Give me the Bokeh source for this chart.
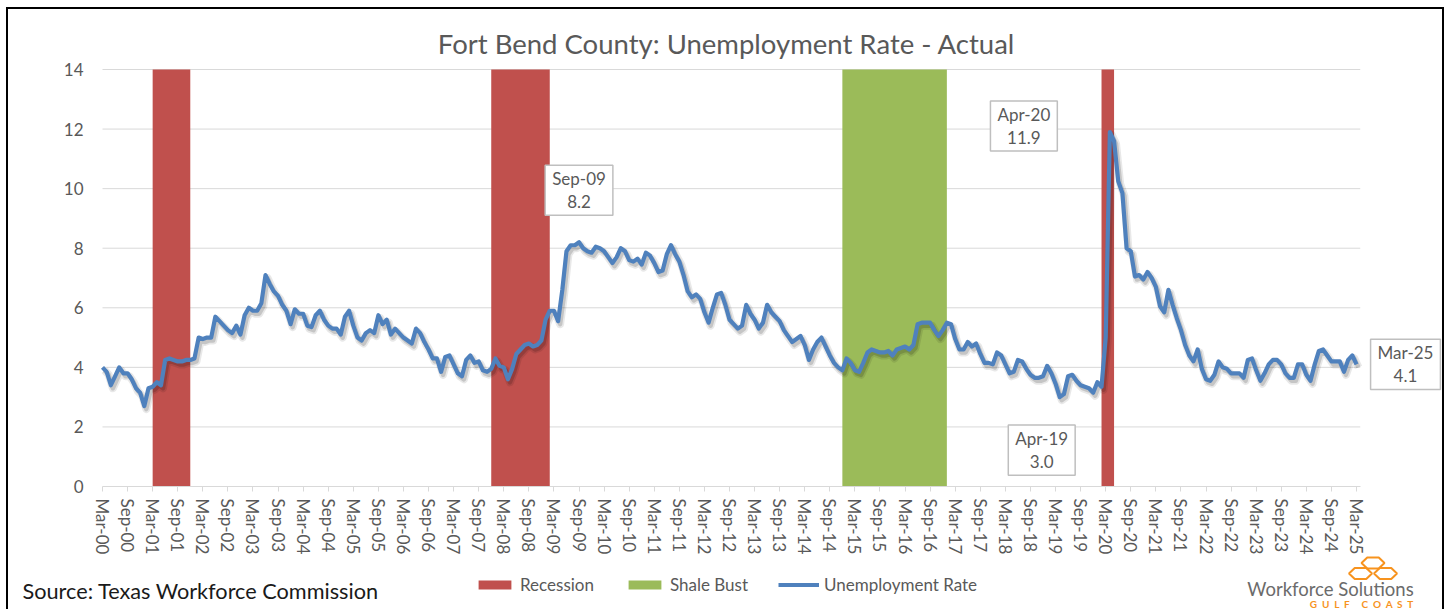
import pandas as pd
from bokeh.plotting import figure
from bokeh.models import (Range1d, FixedTicker, Label, Legend, LegendItem,
                          ColumnDataSource, PolyAnnotation)
from bokeh.embed import file_html
from bokeh.resources import INLINE

# ---------------- data ----------------
months = list(pd.date_range("2000-03-01", "2025-03-01", freq="MS").strftime("%b-%y"))

rate = [
    4.0, 3.85, 3.4, 3.7, 4.0, 3.8, 3.8, 3.6, 3.3, 3.15, 2.7, 3.3,          # Mar-00
    3.35, 3.5, 3.4, 4.25, 4.3, 4.25, 4.2, 4.2, 4.25, 4.25, 4.3, 5.0,       # Mar-01
    4.95, 5.0, 5.0, 5.7, 5.55, 5.4, 5.25, 5.15, 5.4, 5.1, 5.75, 6.0,       # Mar-02
    5.9, 5.9, 6.15, 7.1, 6.8, 6.55, 6.4, 6.1, 5.9, 5.45, 5.95, 5.8,        # Mar-03
    5.8, 5.4, 5.35, 5.75, 5.9, 5.6, 5.4, 5.3, 5.3, 5.1, 5.7, 5.9,          # Mar-04
    5.4, 5.0, 4.9, 5.15, 5.25, 5.15, 5.75, 5.45, 5.6, 5.1, 5.3, 5.15,      # Mar-05
    5.0, 4.9, 4.8, 5.3, 5.15, 4.85, 4.6, 4.3, 4.3, 3.85, 4.35, 4.4,        # Mar-06
    4.1, 3.8, 3.7, 4.25, 4.4, 4.15, 4.2, 3.9, 3.85, 3.95, 4.3, 4.05,       # Mar-07
    4.0, 3.6, 3.95, 4.45, 4.6, 4.75, 4.8, 4.7, 4.75, 4.9, 5.6, 5.9,        # Mar-08
    5.9, 5.55, 6.6, 7.9, 8.1, 8.1, 8.2, 8.0, 7.9, 7.85, 8.05, 8.0,         # Mar-09
    7.9, 7.7, 7.5, 7.7, 8.0, 7.9, 7.6, 7.55, 7.65, 7.45, 7.85, 7.75,       # Mar-10
    7.5, 7.2, 7.25, 7.8, 8.1, 7.8, 7.55, 7.1, 6.55, 6.35, 6.45, 6.3,       # Mar-11
    5.85, 5.5, 6.0, 6.45, 6.5, 6.1, 5.6, 5.45, 5.3, 5.4, 6.1, 5.8,         # Mar-12
    5.6, 5.3, 5.5, 6.1, 5.85, 5.7, 5.55, 5.25, 5.05, 4.85, 4.95, 5.05,     # Mar-13
    4.75, 4.25, 4.6, 4.85, 5.0, 4.7, 4.4, 4.15, 4.0, 3.9, 4.3, 4.15,       # Mar-14
    3.9, 3.85, 4.15, 4.5, 4.6, 4.55, 4.5, 4.5, 4.55, 4.4, 4.6, 4.65,       # Mar-15
    4.7, 4.6, 4.75, 5.45, 5.5, 5.5, 5.5, 5.25, 5.05, 5.25, 5.5, 5.45,      # Mar-16
    4.95, 4.6, 4.6, 4.85, 4.7, 4.8, 4.45, 4.15, 4.15, 4.1, 4.5, 4.4,       # Mar-17
    4.1, 3.8, 3.85, 4.25, 4.2, 3.95, 3.75, 3.65, 3.65, 3.7, 4.05, 3.8,     # Mar-18
    3.45, 3.0, 3.1, 3.7, 3.75, 3.55, 3.4, 3.35, 3.3, 3.15, 3.5, 3.35,      # Mar-19
    5.0, 11.9, 11.6, 10.25, 9.85, 8.0, 7.9, 7.05, 7.1, 6.95, 7.2, 7.0,     # Mar-20
    6.7, 6.05, 5.85, 6.6, 6.1, 5.65, 5.25, 4.75, 4.4, 4.2, 4.6, 3.95,      # Mar-21
    3.6, 3.55, 3.75, 4.2, 4.0, 3.95, 3.8, 3.8, 3.8, 3.65, 4.25, 4.3,       # Mar-22
    3.9, 3.55, 3.8, 4.1, 4.25, 4.25, 4.1, 3.8, 3.65, 3.65, 4.1, 4.1,       # Mar-23
    3.75, 3.55, 4.1, 4.55, 4.6, 4.4, 4.2, 4.2, 4.2, 3.85, 4.25, 4.4,       # Mar-24
    4.1,                                                                   # Mar-25
]

recession_start = ["Mar-01", "Dec-07", "Feb-20"]
recession_end = ["Nov-01", "Jan-09", "Apr-20"]
shale_start = ["Dec-14"]
shale_end = ["Dec-16"]

callout_months = ["Sep-09", "Apr-20", "Apr-19", "Mar-25"]
y_ticks = [0, 2, 4, 6, 8, 10, 12, 14]
tick_every = 6

title_text = "Fort Bend County: Unemployment Rate - Actual"
source_text = "Source: Texas Workforce Commission"

# ---------------- style / layout ----------------
RED = "#C0504D"
GREEN = "#9BBB59"
BLUE = "#4F81BD"
GREY_TXT = "#595959"
GRID = "#D9D9D9"
ORANGE = "#F7931E"
FONT = "Lato"

W, H = 1434, 600                 # canvas size
LEFT_PX = 94                     # canvas x of first month
ZERO_PX = 477                    # canvas y (from top) of value 0
PLOT_W_MONTHS = 300.9            # plotted span (months)
PPM = 4.18                       # pixels per month
PPU = 417 / 14                   # pixels per unit

idx = {m: i for i, m in enumerate(months)}
xs = list(range(len(months)))

x0 = -LEFT_PX / PPM
x1 = (W - LEFT_PX) / PPM
y0 = -(H - ZERO_PX) / PPU
y1 = ZERO_PX / PPU

p = figure(width=W, height=H, x_range=Range1d(x0, x1), y_range=Range1d(y0, y1),
           output_backend="svg", toolbar_location=None, title=None, min_border=0)
p.outline_line_color = None
p.background_fill_color = "white"
p.border_fill_color = "white"
p.styles = {"transform": "translate(8px, 9px)",
            "box-shadow": "-2px 0 0 0 #000, 2px 0 0 0 #000, 0 -2px 0 0 #000, "
                          "-2px -2px 0 0 #000, 2px -2px 0 0 #000"}

ymax = max(y_ticks)
# gridlines (restricted to plot area)
gl = [t for t in y_ticks if t > 0]
p.segment(x0=[0] * len(gl), x1=[PLOT_W_MONTHS] * len(gl), y0=gl, y1=gl,
          line_color=GRID, line_width=1)

# bands
rec_src = ColumnDataSource(dict(left=[idx[s] for s in recession_start],
                                right=[idx[e] + 1 for e in recession_end]))
rec_r = p.quad(left="left", right="right", bottom=0, top=ymax,
               source=rec_src, fill_color=RED, line_color=None)
sh_src = ColumnDataSource(dict(left=[idx[s] for s in shale_start],
                               right=[idx[e] + 1 for e in shale_end]))
sh_r = p.quad(left="left", right="right", bottom=0, top=ymax,
              source=sh_src, fill_color=GREEN, line_color=None)

# line shadow via slightly shifted ranges
sdx, sdy = 2 / PPM, 3 / PPU
p.extra_x_ranges = {"shx": Range1d(x0 - sdx, x1 - sdx)}
p.extra_y_ranges = {"shy": Range1d(y0 + sdy, y1 + sdy)}
src = ColumnDataSource(dict(x=xs, y=rate))
p.line("x", "y", source=src, x_range_name="shx", y_range_name="shy",
       line_color="black", line_alpha=0.09, line_width=8, line_join="round")
p.line("x", "y", source=src, x_range_name="shx", y_range_name="shy",
       line_color="black", line_alpha=0.15, line_width=4.5, line_join="round")
line_r = p.line("x", "y", source=src, line_color=BLUE, line_width=4.2, line_join="round")

# axes fixed at the data origin
p.yaxis.fixed_location = 0
p.yaxis.bounds = (0, ymax)
p.yaxis.ticker = FixedTicker(ticks=y_ticks)
p.yaxis.axis_line_color = None
p.yaxis.major_tick_line_color = None
p.yaxis.minor_tick_line_color = None
p.yaxis.major_label_text_font = FONT
p.yaxis.major_label_text_font_size = "17px"
p.yaxis.major_label_text_color = GREY_TXT
p.yaxis.major_label_standoff = 13

xt = list(range(0, len(months), tick_every))
p.xaxis.fixed_location = 0
p.xaxis.bounds = (0, PLOT_W_MONTHS)
p.xaxis.ticker = FixedTicker(ticks=xt)
p.xaxis.major_label_overrides = {i: months[i] for i in xt}
p.xaxis.major_label_orientation = "vertical"
p.xaxis.axis_line_color = GRID
p.xaxis.major_tick_line_color = GRID
p.xaxis.major_tick_in = 0
p.xaxis.major_tick_out = 5
p.xaxis.minor_tick_line_color = None
p.xaxis.major_label_text_font = FONT
p.xaxis.major_label_text_font_size = "17px"
p.xaxis.major_label_text_color = GREY_TXT
p.xaxis.major_label_standoff = 7

p.xgrid.grid_line_color = None
p.ygrid.grid_line_color = None

# callouts
offsets = {"Sep-09": (0, 52), "Apr-20": (-86, 6), "Apr-19": (-18, -53), "Mar-25": (49, 0)}
for m in callout_months:
    i = idx[m]
    dx, dy = offsets[m]
    p.add_layout(Label(x=i, y=rate[i], x_offset=dx, y_offset=dy,
                       text=f"{m}\n{rate[i]:.1f}", text_align="center", text_baseline="middle",
                       text_font=FONT, text_font_size="17px", text_color=GREY_TXT,
                       text_line_height=1.1, background_fill_color="white",
                       border_line_color="#BFBFBF", border_line_width=1.5,
                       padding=dict(left=7, right=7, top=3, bottom=3)))

# title & source (screen units: from canvas bottom-left)
p.add_layout(Label(x=718, y=566, x_units="screen", y_units="screen", text=title_text,
                   text_align="center", text_baseline="middle", text_font=FONT,
                   text_font_size="27.5px", text_color=GREY_TXT))
p.add_layout(Label(x=14, y=19, x_units="screen", y_units="screen", text=source_text,
                   text_align="left", text_baseline="middle", text_font=FONT,
                   text_font_size="21.7px", text_color="#1A1A1A"))

# logo
p.add_layout(Label(x=1322, y=21, x_units="screen", y_units="screen", text="Workforce Solutions",
                   text_align="center", text_baseline="middle", text_font=FONT,
                   text_font_size="18.5px", text_color="#6B6B6B"))
nb = "\u00a0"
gulf = (nb * 2).join("GULF") + nb * 5 + (nb * 2).join("COAST")
p.add_layout(Label(x=1353, y=6, x_units="screen", y_units="screen", text=gulf,
                   text_align="center", text_baseline="middle", text_font=FONT,
                   text_font_size="10px", text_font_style="bold", text_color=ORANGE))
hex_centers = [(1364.5, 46.5), (1352.0, 36.0), (1377.0, 36.0)]
for hx, hy in hex_centers:
    a, b = 11.5, 5.5
    p.add_layout(PolyAnnotation(xs=[hx - a, hx - a / 2, hx + a / 2, hx + a, hx + a / 2, hx - a / 2],
                                ys=[hy, hy + b, hy + b, hy, hy - b, hy - b],
                                xs_units="screen", ys_units="screen",
                                fill_alpha=0, line_color=ORANGE, line_alpha=1.0, line_width=2))

# legend
legend = Legend(items=[LegendItem(label="Recession", renderers=[rec_r]),
                       LegendItem(label="Shale Bust", renderers=[sh_r]),
                       LegendItem(label="Unemployment Rate", renderers=[line_r])],
                location=(466, 14), orientation="horizontal",
                glyph_width=41, glyph_height=11, label_standoff=5, spacing=30,
                padding=0, margin=0, border_line_color=None, background_fill_alpha=0,
                label_text_font=FONT, label_text_font_size="17px", label_text_color=GREY_TXT)
p.add_layout(legend, "center")

open("out.html", "w").write(file_html(p, INLINE))
